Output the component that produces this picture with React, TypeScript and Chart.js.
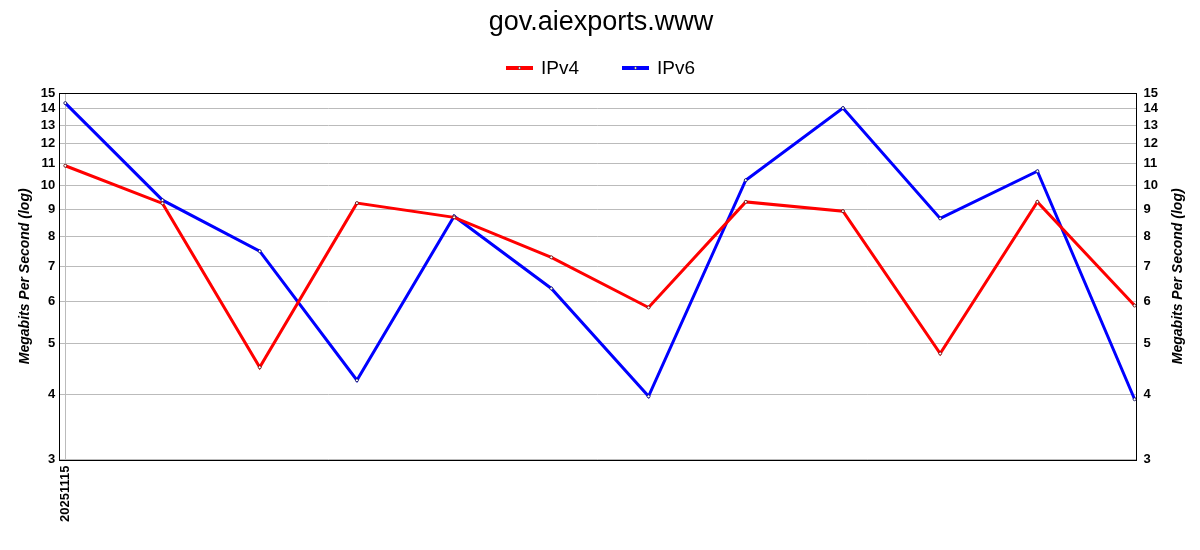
import React, { useEffect, useRef } from "react";
import { Chart, registerables } from "chart.js";

Chart.register(...registerables);

const title = "gov.aiexports.www";
const categories = ["20251115", "", "", "", "", "", "", "", "", "", "", ""];
const ipv4 = [10.9, 9.24, 4.5, 9.25, 8.69, 7.29, 5.85, 9.3, 8.93, 4.78, 9.3, 5.9];
const ipv6 = [14.35, 9.37, 7.49, 4.25, 8.73, 6.36, 3.96, 10.23, 14.04, 8.65, 10.64, 3.91];
const yTicks = [3, 4, 5, 6, 7, 8, 9, 10, 11, 12, 13, 14, 15];
const yTitle = "Megabits Per Second (log)";
const FONT = "'Liberation Sans', Arial, sans-serif";

const decorPlugin = {
  id: "decor",
  afterDraw(chart: any) {
    const { ctx, chartArea } = chart;
    // chart title
    ctx.save();
    ctx.font = "27px " + FONT;
    ctx.fillStyle = "#000";
    ctx.textAlign = "center";
    ctx.textBaseline = "middle";
    ctx.fillText(title, 601, 23);
    ctx.restore();
    // right axis title (reads bottom to top)
    ctx.save();
    ctx.font = "italic bold 14px " + FONT;
    ctx.fillStyle = "#000";
    ctx.textAlign = "center";
    ctx.textBaseline = "middle";
    ctx.translate(1178, (chartArea.top + chartArea.bottom) / 2);
    ctx.rotate(-Math.PI / 2);
    ctx.fillText(yTitle, 0, 0);
    ctx.restore();
    // plot border
    ctx.save();
    ctx.strokeStyle = "#000";
    ctx.lineWidth = 1;
    ctx.strokeRect(
      Math.round(chartArea.left) + 0.5,
      Math.round(chartArea.top) + 0.5,
      Math.round(chartArea.right - chartArea.left),
      Math.round(chartArea.bottom - chartArea.top)
    );
    ctx.restore();
    // legend
    ctx.save();
    const y = 68;
    const items = chart.data.datasets.map((d: any, i: number) => ({
      label: d.label,
      color: d.borderColor,
      x: i === 0 ? 506 : 622,
    }));
    ctx.font = "19px " + FONT;
    ctx.textBaseline = "middle";
    ctx.textAlign = "left";
    items.forEach((it: any) => {
      ctx.strokeStyle = it.color;
      ctx.lineWidth = 4;
      ctx.beginPath();
      ctx.moveTo(it.x, y);
      ctx.lineTo(it.x + 27, y);
      ctx.stroke();
      ctx.fillStyle = "#fff";
      ctx.strokeStyle = "#333";
      ctx.lineWidth = 0.6;
      ctx.beginPath();
      ctx.arc(it.x + 13.5, y, 1.2, 0, Math.PI * 2);
      ctx.fill();
      ctx.stroke();
      ctx.fillStyle = "#000";
      ctx.fillText(it.label, it.x + 35, y + 1);
    });
    ctx.restore();
  },
};

export default function App() {
  const ref = useRef<HTMLCanvasElement | null>(null);
  useEffect(() => {
    if (!ref.current) return;
    const yScale = (position: string, showTitle: boolean) => ({
      type: "logarithmic",
      position,
      min: 3,
      max: 15,
      afterBuildTicks: (axis: any) => {
        axis.ticks = yTicks.map((v) => ({ value: v }));
      },
      ticks: {
        color: "#000",
        font: { family: FONT, size: 13, weight: "bold" },
        callback: (v: any) => String(v),
        padding: position === "left" ? 4 : 7,
      },
      grid: {
        color: position === "left" ? "#bbbbbb" : "transparent",
        drawTicks: false,
        lineWidth: 1,
      },
      border: { display: false },
      title: {
        display: showTitle,
        text: yTitle,
        color: "#000",
        font: { family: FONT, size: 14, weight: "bold", style: "italic" },
        padding: { top: 0, bottom: 3 },
      },
    });
    const chart = new Chart(ref.current, {
      type: "line",
      data: {
        datasets: [
          {
            label: "IPv4",
            data: ipv4.map((v, i) => ({ x: i, y: v })),
            borderColor: "#ff0000",
            backgroundColor: "#ff0000",
            borderWidth: 3,
            pointRadius: 1.5,
            pointBackgroundColor: "#ffffff",
            pointBorderColor: "#550000",
            pointBorderWidth: 0.8,
            tension: 0,
            yAxisID: "y",
          },
          {
            label: "IPv6",
            data: ipv6.map((v, i) => ({ x: i, y: v })),
            borderColor: "#0000ff",
            backgroundColor: "#0000ff",
            borderWidth: 3,
            pointRadius: 1.5,
            pointBackgroundColor: "#ffffff",
            pointBorderColor: "#000055",
            pointBorderWidth: 0.8,
            tension: 0,
            yAxisID: "y",
          },
        ],
      },
      options: {
        animation: false,
        responsive: false,
        maintainAspectRatio: false,
        layout: { padding: { left: 17, right: 35, top: 93, bottom: 22 } },
        plugins: {
          title: { display: false },
          legend: { display: false },
          tooltip: { enabled: false },
        },
        scales: {
          x: {
            type: "linear",
            min: -0.062,
            max: 11.02,
            afterBuildTicks: (axis: any) => {
              axis.ticks = categories
                .map((c, i) => ({ value: i }))
                .filter((t, i) => categories[i] !== "");
            },
            ticks: {
              color: "#000",
              font: { family: FONT, size: 13, weight: "bold" },
              minRotation: 90,
              maxRotation: 90,
              autoSkip: false,
              callback: (v: any) => categories[Math.round(v)] ?? "",
              padding: 6,
            },
            grid: { color: "#bbbbbb", drawTicks: false },
            border: { display: false },
          },
          y: yScale("left", true),
          y2: yScale("right", false),
        },
      },
      plugins: [decorPlugin],
    } as any);
    return () => chart.destroy();
  }, []);
  return (
    <div style={{ position: "fixed", left: 0, top: 0, width: 1200, height: 550, background: "#fff" }}>
      <canvas ref={ref} width={1200} height={550} />
    </div>
  );
}
